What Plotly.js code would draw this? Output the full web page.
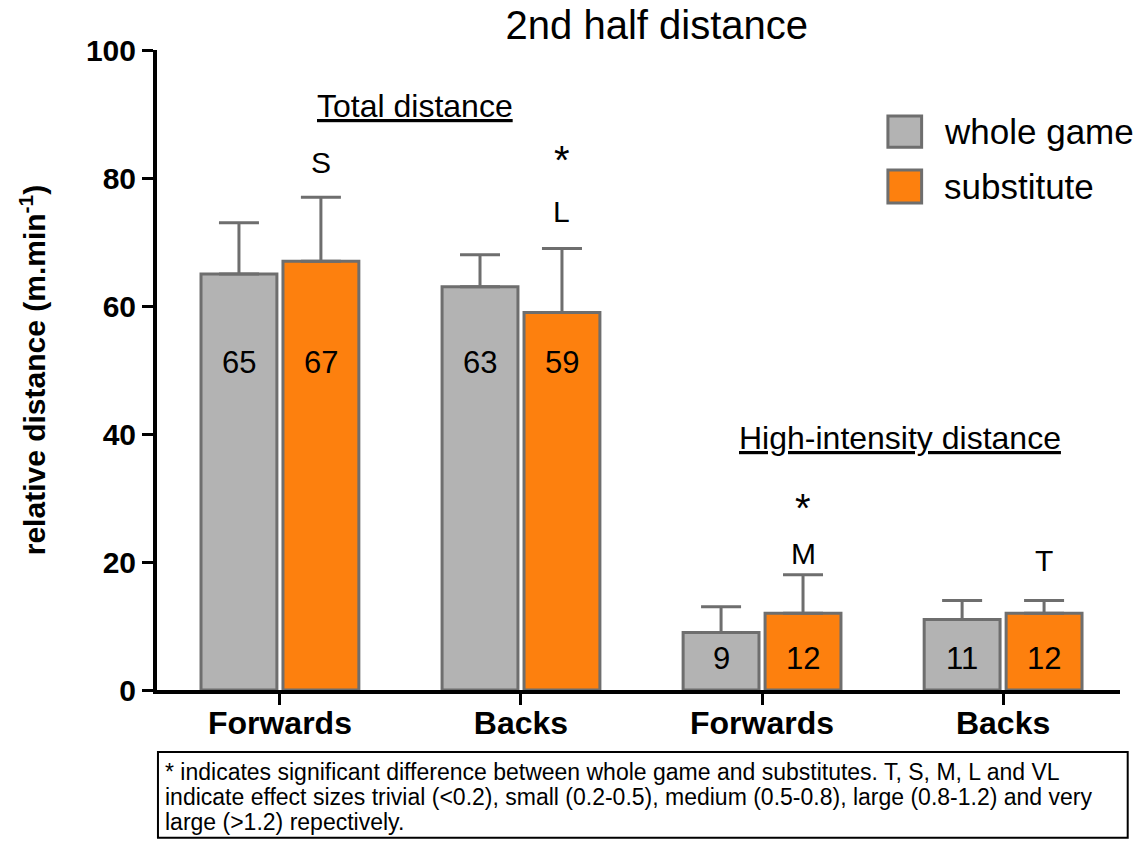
<!DOCTYPE html>
<html>
<head>
<meta charset="utf-8">
<script src="https://cdn.plot.ly/plotly-3.0.1.min.js"></script>
<style>html,body{margin:0;padding:0;background:#fff;}#chart{width:1141px;height:842px;}</style>
</head>
<body>
<div id="chart"></div>
<script>
// ---- data ----
const categories = ["Forwards", "Backs", "Forwards", "Backs"];
const seriesNames = ["whole game", "substitute"];
const wholeGame = [65, 63, 9, 11];
const wholeGameErr = [8, 5, 4, 3];
const substitute = [67, 59, 12, 12];
const substituteErr = [10, 10, 6, 2];
const effectSizes = ["S", "L", "M", "T"];
const sigStars = ["", "*", "*", ""];
const groupTitles = ["Total distance", "High-intensity distance"];
const footnoteLines = [
  "* indicates significant difference between whole game and substitutes. T, S, M, L and VL",
  "indicate effect sizes trivial (&lt;0.2), small (0.2-0.5), medium (0.5-0.8), large (0.8-1.2) and very",
  "large (&gt;1.2) repectively."
];

// ---- styling / placement ----
const GRAY = "#b3b3b3", ORANGE = "#fd800e", EDGE = "#6e6e6e";
const FONT = "Liberation Sans, Arial, sans-serif";
const xpos = categories.map((c, i) => i);
const OFF = 0.17;
const effectY = [82.5, 74.8, 21.4, 20.3];   // label positions (axis units)
const starY = [0, 82.8, 28.4, 0];

function barTrace(name, y, err, color) {
  return {
    type: "bar", name: name, x: xpos, y: y,
    marker: {color: color, line: {color: EDGE, width: 3}},
    error_y: {type: "data", array: err, symmetric: false, arrayminus: err.map(() => 0),
              color: EDGE, thickness: 3, width: 20},
    hoverinfo: "skip"
  };
}
const traces = [
  barTrace(seriesNames[0], wholeGame, wholeGameErr, GRAY),
  barTrace(seriesNames[1], substitute, substituteErr, ORANGE)
];

const annotations = [];
const labelY = i => (i < 2 ? 51.2 : 5);
wholeGame.forEach((v, i) => annotations.push({x: i - OFF, y: labelY(i), xref: "x", yref: "y",
  text: String(v), showarrow: false, font: {family: FONT, size: 31, color: "#000"}}));
substitute.forEach((v, i) => annotations.push({x: i + OFF, y: labelY(i), xref: "x", yref: "y",
  text: String(v), showarrow: false, font: {family: FONT, size: 31, color: "#000"}}));
effectSizes.forEach((t, i) => {
  annotations.push({x: i + OFF, y: effectY[i], xref: "x", yref: "y", yanchor: "middle",
    text: t, showarrow: false, font: {family: FONT, size: 30, color: "#000"}});
  if (sigStars[i]) annotations.push({x: i + OFF, y: starY[i], xref: "x", yref: "y", yanchor: "middle",
    text: sigStars[i], showarrow: false, font: {family: FONT, size: 40, color: "#000"}});
});
annotations.push({x: 0.56, y: 91.3, xref: "x", yref: "y", text: "<u>" + groupTitles[0] + "</u>",
  showarrow: false, font: {family: FONT, size: 32, color: "#000"}});
annotations.push({x: 2.573, y: 39.3, xref: "x", yref: "y", text: "<u>" + groupTitles[1] + "</u>",
  showarrow: false, font: {family: FONT, size: 32, color: "#000"}});
annotations.push({x: 0.815, y: 0.873, xref: "paper", yref: "paper", xanchor: "left", yanchor: "middle",
  text: seriesNames[0], showarrow: false, font: {family: FONT, size: 35, color: "#000"}});
annotations.push({x: 0.815, y: 0.786, xref: "paper", yref: "paper", xanchor: "left", yanchor: "middle",
  text: seriesNames[1], showarrow: false, font: {family: FONT, size: 35, color: "#000"}});
footnoteLines.forEach((ln, k) => annotations.push({x: 0.006, y: (690 - (772 + 25 * k)) / 640,
  xref: "paper", yref: "paper", xanchor: "left", yanchor: "middle", align: "left",
  text: ln, showarrow: false, font: {family: FONT, size: 23, color: "#000"}}));

const shapes = [
  {type: "rect", xref: "paper", yref: "paper", x0: 0.759, x1: 0.794, y0: 0.848, y1: 0.897,
   fillcolor: GRAY, line: {color: EDGE, width: 3}},
  {type: "rect", xref: "paper", yref: "paper", x0: 0.759, x1: 0.794, y0: 0.761, y1: 0.8125,
   fillcolor: ORANGE, line: {color: EDGE, width: 3}},
  {type: "rect", xref: "paper", yref: "paper", x0: 0.001, x1: 1.008, y0: -0.231, y1: -0.097,
   fillcolor: "rgba(0,0,0,0)", line: {color: "#000", width: 2}}
];

const layout = {
  width: 1141, height: 842,
  margin: {l: 157, r: 21, t: 50, b: 152},
  paper_bgcolor: "#fff", plot_bgcolor: "#fff",
  showlegend: false,
  barmode: "group", bargap: 0.32, bargroupgap: 0.074,
  title: {text: "2nd half distance", x: 0.519, xref: "paper", xanchor: "center",
          y: 0.97, yref: "container", yanchor: "middle",
          font: {family: FONT, size: 40, color: "#000"}},
  xaxis: {range: [-0.51, 3.485], tickmode: "array", tickvals: xpos, ticktext: categories,
          showgrid: false, zeroline: false, showline: true, linecolor: "#000", linewidth: 4,
          ticks: "outside", ticklen: 11, tickwidth: 3, tickcolor: "#000", ticklabelstandoff: -9,
          tickfont: {family: FONT, size: 32, color: "#000", weight: "bold"}, fixedrange: true},
  yaxis: {range: [0, 100], tickvals: [0, 20, 40, 60, 80, 100],
          showgrid: false, zeroline: false, showline: true, linecolor: "#000", linewidth: 4,
          ticks: "outside", ticklen: 11, tickwidth: 3, tickcolor: "#000",
          tickfont: {family: FONT, size: 30, color: "#000", weight: "bold"},
          title: {text: "relative distance (m.min<sup>-1</sup>)", standoff: 32,
                  font: {family: FONT, size: 30, color: "#000", weight: "bold"}}, fixedrange: true},
  annotations: annotations,
  shapes: shapes
};
Plotly.newPlot("chart", traces, layout, {displayModeBar: false, staticPlot: true});
</script>
</body>
</html>
